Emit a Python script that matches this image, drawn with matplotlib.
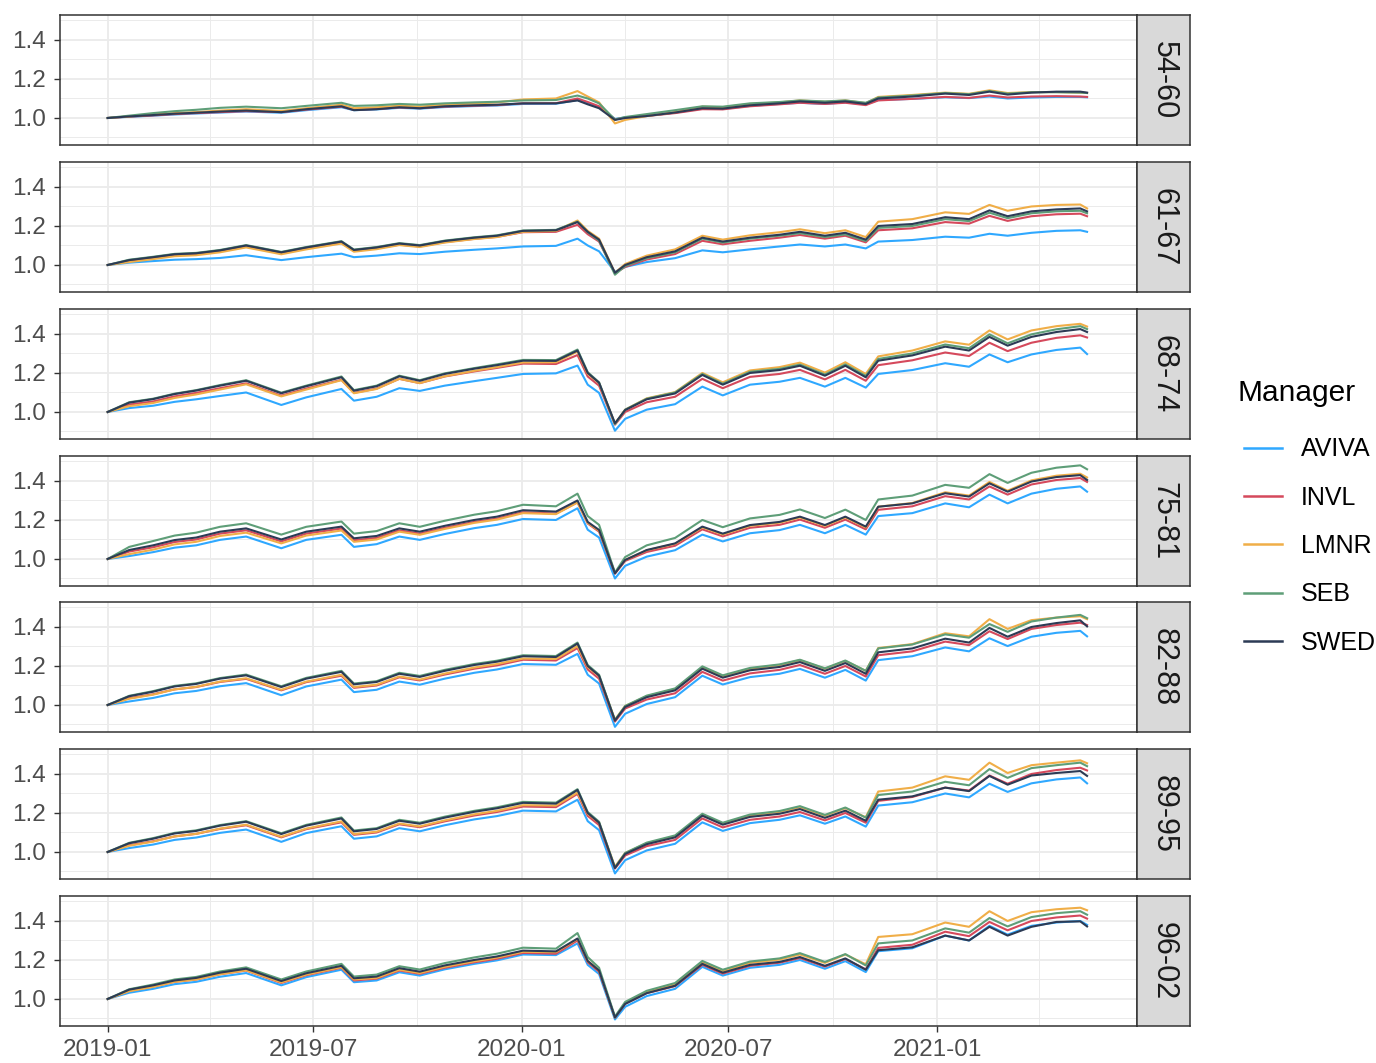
import pandas as pd
import matplotlib.pyplot as plt
import matplotlib.dates as mdates
from matplotlib.lines import Line2D
from matplotlib.ticker import MultipleLocator, FormatStrFormatter

plt.rcParams['font.family'] = ['Liberation Sans', 'DejaVu Sans']

# sample dates
dates = ['2019-01-01', '2019-01-20', '2019-02-10', '2019-03-01', '2019-03-20', '2019-04-10',
         '2019-05-03', '2019-06-03', '2019-06-25', '2019-07-26', '2019-08-06', '2019-08-26',
         '2019-09-15', '2019-10-03', '2019-10-25', '2019-11-20', '2019-12-10', '2020-01-02',
         '2020-01-31', '2020-02-19', '2020-02-28', '2020-03-09', '2020-03-23', '2020-04-01',
         '2020-04-20', '2020-05-15', '2020-06-08', '2020-06-26', '2020-07-20', '2020-08-15',
         '2020-09-02', '2020-09-24', '2020-10-12', '2020-10-30', '2020-11-10', '2020-12-10',
         '2021-01-08', '2021-01-29', '2021-02-16', '2021-03-04', '2021-03-25', '2021-04-16',
         '2021-05-07', '2021-05-13']

managers = ['AVIVA', 'INVL', 'LMNR', 'SEB', 'SWED']
colours = ['#2FA8FF', '#D5495C', '#F0AE48', '#5E9E78', '#2C3B55']
groups = ['54-60', '61-67', '68-74', '75-81', '82-88', '89-95', '96-02']

g54_60 = {
    'AVIVA': [1.000, 1.006, 1.012, 1.018, 1.023, 1.028, 1.033, 1.027, 1.040, 1.055, 1.040, 1.044,
              1.052, 1.048, 1.056, 1.061, 1.064, 1.072, 1.073, 1.092, 1.075, 1.055, 0.995, 1.003,
              1.012, 1.027, 1.048, 1.046, 1.062, 1.072, 1.078, 1.072, 1.080, 1.070, 1.092, 1.098,
              1.106, 1.102, 1.110, 1.100, 1.105, 1.108, 1.108, 1.106],
    'INVL': [1.000, 1.007, 1.013, 1.020, 1.025, 1.030, 1.035, 1.030, 1.043, 1.058, 1.042, 1.046,
             1.054, 1.050, 1.058, 1.063, 1.066, 1.075, 1.076, 1.100, 1.082, 1.060, 0.993, 1.002,
             1.010, 1.025, 1.045, 1.044, 1.060, 1.070, 1.078, 1.072, 1.078, 1.066, 1.090, 1.098,
             1.108, 1.103, 1.115, 1.105, 1.110, 1.112, 1.110, 1.108],
    'LMNR': [1.000, 1.008, 1.018, 1.025, 1.030, 1.038, 1.045, 1.036, 1.050, 1.068, 1.050, 1.055,
             1.063, 1.058, 1.068, 1.074, 1.080, 1.095, 1.100, 1.138, 1.110, 1.080, 0.972, 0.990,
             1.010, 1.030, 1.058, 1.055, 1.072, 1.080, 1.090, 1.083, 1.090, 1.076, 1.108, 1.118,
             1.130, 1.124, 1.142, 1.128, 1.133, 1.133, 1.130, 1.128],
    'SEB': [1.000, 1.012, 1.025, 1.035, 1.042, 1.052, 1.058, 1.050, 1.062, 1.078, 1.062, 1.065,
            1.072, 1.068, 1.075, 1.080, 1.083, 1.090, 1.092, 1.115, 1.100, 1.075, 0.992, 1.005,
            1.020, 1.040, 1.060, 1.058, 1.075, 1.082, 1.090, 1.085, 1.090, 1.078, 1.105, 1.115,
            1.128, 1.122, 1.138, 1.125, 1.132, 1.132, 1.130, 1.128],
    'SWED': [1.000, 1.008, 1.015, 1.022, 1.027, 1.033, 1.038, 1.030, 1.045, 1.060, 1.040, 1.045,
             1.055, 1.050, 1.060, 1.065, 1.068, 1.075, 1.075, 1.090, 1.070, 1.050, 0.990, 1.000,
             1.010, 1.028, 1.050, 1.048, 1.065, 1.075, 1.085, 1.078, 1.085, 1.072, 1.100, 1.110,
             1.125, 1.118, 1.135, 1.120, 1.130, 1.135, 1.135, 1.130],
}

g61_67 = {
    'AVIVA': [1.000, 1.012, 1.020, 1.027, 1.030, 1.036, 1.050, 1.025, 1.040, 1.058, 1.040, 1.048,
              1.060, 1.056, 1.068, 1.078, 1.085, 1.095, 1.098, 1.135, 1.100, 1.070, 0.965, 0.990,
              1.015, 1.035, 1.075, 1.065, 1.080, 1.095, 1.105, 1.095, 1.105, 1.085, 1.120, 1.128,
              1.145, 1.140, 1.160, 1.150, 1.165, 1.175, 1.178, 1.170],
    'INVL': [1.000, 1.020, 1.035, 1.050, 1.055, 1.070, 1.094, 1.060, 1.085, 1.114, 1.072, 1.085,
             1.104, 1.095, 1.117, 1.134, 1.144, 1.168, 1.170, 1.206, 1.158, 1.120, 0.958, 0.990,
             1.028, 1.056, 1.124, 1.106, 1.124, 1.140, 1.154, 1.135, 1.150, 1.116, 1.178, 1.188,
             1.220, 1.212, 1.252, 1.226, 1.250, 1.260, 1.263, 1.250],
    'LMNR': [1.000, 1.015, 1.030, 1.045, 1.050, 1.065, 1.090, 1.055, 1.080, 1.110, 1.068, 1.081,
             1.102, 1.092, 1.115, 1.133, 1.143, 1.170, 1.175, 1.228, 1.175, 1.135, 0.960, 1.005,
             1.048, 1.080, 1.150, 1.130, 1.152, 1.168, 1.183, 1.163, 1.178, 1.143, 1.222, 1.235,
             1.270, 1.262, 1.308, 1.278, 1.300, 1.308, 1.310, 1.290],
    'SEB': [1.000, 1.027, 1.042, 1.057, 1.062, 1.077, 1.102, 1.067, 1.092, 1.122, 1.079, 1.092,
            1.112, 1.102, 1.125, 1.142, 1.152, 1.177, 1.180, 1.222, 1.168, 1.125, 0.950, 0.995,
            1.035, 1.065, 1.135, 1.115, 1.135, 1.150, 1.163, 1.143, 1.157, 1.123, 1.190, 1.200,
            1.235, 1.225, 1.268, 1.240, 1.265, 1.275, 1.278, 1.265],
    'SWED': [1.000, 1.025, 1.040, 1.055, 1.060, 1.075, 1.100, 1.065, 1.090, 1.120, 1.077, 1.090,
             1.110, 1.100, 1.123, 1.140, 1.150, 1.175, 1.178, 1.220, 1.170, 1.130, 0.960, 1.000,
             1.040, 1.070, 1.140, 1.120, 1.140, 1.155, 1.170, 1.150, 1.165, 1.130, 1.200, 1.210,
             1.245, 1.235, 1.280, 1.250, 1.275, 1.285, 1.290, 1.275],
}

g68_74 = {
    'AVIVA': [1.000, 1.020, 1.032, 1.052, 1.065, 1.082, 1.100, 1.036, 1.075, 1.118, 1.058, 1.078,
              1.122, 1.108, 1.135, 1.158, 1.175, 1.195, 1.198, 1.238, 1.140, 1.098, 0.904, 0.965,
              1.012, 1.040, 1.130, 1.085, 1.140, 1.155, 1.175, 1.130, 1.175, 1.125, 1.195, 1.215,
              1.250, 1.232, 1.295, 1.255, 1.295, 1.318, 1.330, 1.297],
    'INVL': [1.000, 1.038, 1.054, 1.080, 1.098, 1.122, 1.147, 1.084, 1.120, 1.165, 1.098, 1.120,
             1.170, 1.148, 1.182, 1.208, 1.226, 1.248, 1.246, 1.292, 1.182, 1.135, 0.935, 1.000,
             1.050, 1.078, 1.170, 1.122, 1.180, 1.195, 1.216, 1.167, 1.216, 1.160, 1.240, 1.265,
             1.305, 1.287, 1.355, 1.312, 1.355, 1.380, 1.393, 1.382],
    'LMNR': [1.000, 1.030, 1.046, 1.072, 1.090, 1.115, 1.142, 1.080, 1.115, 1.163, 1.096, 1.118,
             1.170, 1.148, 1.183, 1.211, 1.230, 1.254, 1.255, 1.310, 1.196, 1.148, 0.940, 1.012,
             1.070, 1.102, 1.200, 1.152, 1.213, 1.230, 1.253, 1.202, 1.255, 1.195, 1.285, 1.315,
             1.362, 1.345, 1.418, 1.372, 1.418, 1.440, 1.452, 1.438],
    'SEB': [1.000, 1.050, 1.068, 1.094, 1.112, 1.138, 1.163, 1.099, 1.135, 1.182, 1.112, 1.135,
            1.186, 1.163, 1.198, 1.225, 1.244, 1.267, 1.266, 1.320, 1.204, 1.152, 0.938, 1.012,
            1.068, 1.100, 1.195, 1.145, 1.206, 1.221, 1.243, 1.192, 1.244, 1.185, 1.272, 1.300,
            1.346, 1.327, 1.398, 1.352, 1.398, 1.424, 1.440, 1.425],
    'SWED': [1.000, 1.048, 1.066, 1.092, 1.110, 1.135, 1.160, 1.096, 1.132, 1.178, 1.109, 1.132,
             1.183, 1.160, 1.195, 1.222, 1.240, 1.263, 1.262, 1.315, 1.200, 1.150, 0.942, 1.010,
             1.065, 1.095, 1.190, 1.140, 1.200, 1.215, 1.237, 1.186, 1.237, 1.178, 1.263, 1.290,
             1.335, 1.315, 1.385, 1.340, 1.385, 1.410, 1.425, 1.410],
}

g75_81 = {
    'AVIVA': [1.000, 1.015, 1.035, 1.058, 1.070, 1.098, 1.115, 1.055, 1.098, 1.124, 1.062, 1.076,
              1.115, 1.098, 1.128, 1.158, 1.175, 1.205, 1.200, 1.260, 1.150, 1.110, 0.900, 0.965,
              1.012, 1.045, 1.125, 1.090, 1.132, 1.148, 1.175, 1.132, 1.175, 1.125, 1.220, 1.235,
              1.285, 1.265, 1.330, 1.285, 1.335, 1.360, 1.372, 1.345],
    'INVL': [1.000, 1.038, 1.060, 1.087, 1.100, 1.130, 1.147, 1.090, 1.130, 1.156, 1.096, 1.108,
             1.147, 1.130, 1.160, 1.190, 1.207, 1.240, 1.233, 1.290, 1.182, 1.140, 0.925, 0.990,
             1.036, 1.068, 1.152, 1.116, 1.160, 1.175, 1.202, 1.160, 1.202, 1.152, 1.252, 1.270,
             1.322, 1.305, 1.372, 1.330, 1.382, 1.405, 1.415, 1.395],
    'LMNR': [1.000, 1.025, 1.048, 1.075, 1.088, 1.118, 1.135, 1.080, 1.120, 1.146, 1.088, 1.100,
             1.140, 1.124, 1.154, 1.185, 1.202, 1.235, 1.230, 1.290, 1.185, 1.145, 0.930, 0.995,
             1.045, 1.078, 1.162, 1.126, 1.170, 1.186, 1.213, 1.170, 1.213, 1.162, 1.268, 1.287,
             1.342, 1.325, 1.395, 1.350, 1.403, 1.427, 1.437, 1.418],
    'SEB': [1.000, 1.062, 1.092, 1.120, 1.135, 1.165, 1.183, 1.125, 1.165, 1.192, 1.130, 1.143,
            1.183, 1.165, 1.196, 1.227, 1.245, 1.278, 1.270, 1.335, 1.220, 1.175, 0.930, 1.010,
            1.070, 1.108, 1.200, 1.163, 1.208, 1.226, 1.254, 1.210, 1.253, 1.200, 1.305, 1.325,
            1.380, 1.365, 1.435, 1.390, 1.442, 1.468, 1.480, 1.460],
    'SWED': [1.000, 1.046, 1.070, 1.097, 1.110, 1.140, 1.157, 1.100, 1.140, 1.166, 1.106, 1.118,
             1.157, 1.140, 1.170, 1.200, 1.217, 1.250, 1.243, 1.300, 1.190, 1.149, 0.926, 0.995,
             1.046, 1.080, 1.166, 1.130, 1.174, 1.190, 1.217, 1.174, 1.217, 1.166, 1.268, 1.285,
             1.337, 1.320, 1.388, 1.345, 1.397, 1.420, 1.430, 1.405],
}

g82_88 = {
    'AVIVA': [1.000, 1.018, 1.036, 1.060, 1.072, 1.096, 1.112, 1.050, 1.095, 1.130, 1.066, 1.078,
              1.120, 1.104, 1.135, 1.165, 1.182, 1.210, 1.206, 1.262, 1.155, 1.110, 0.888, 0.955,
              1.005, 1.040, 1.150, 1.105, 1.143, 1.160, 1.185, 1.140, 1.180, 1.125, 1.230, 1.250,
              1.295, 1.275, 1.342, 1.302, 1.350, 1.370, 1.380, 1.352],
    'INVL': [1.000, 1.035, 1.055, 1.080, 1.092, 1.118, 1.134, 1.075, 1.117, 1.150, 1.088, 1.100,
             1.142, 1.126, 1.156, 1.186, 1.203, 1.232, 1.228, 1.292, 1.182, 1.135, 0.915, 0.982,
             1.028, 1.060, 1.170, 1.125, 1.162, 1.180, 1.205, 1.160, 1.200, 1.146, 1.255, 1.275,
             1.325, 1.307, 1.378, 1.338, 1.390, 1.410, 1.422, 1.410],
    'LMNR': [1.000, 1.032, 1.053, 1.080, 1.093, 1.120, 1.137, 1.078, 1.120, 1.155, 1.092, 1.104,
             1.146, 1.130, 1.161, 1.192, 1.210, 1.238, 1.236, 1.302, 1.195, 1.148, 0.925, 0.995,
             1.045, 1.082, 1.192, 1.148, 1.186, 1.205, 1.230, 1.186, 1.226, 1.175, 1.292, 1.312,
             1.368, 1.352, 1.440, 1.390, 1.435, 1.448, 1.455, 1.440],
    'SEB': [1.000, 1.047, 1.071, 1.098, 1.111, 1.138, 1.156, 1.096, 1.139, 1.175, 1.110, 1.122,
            1.165, 1.149, 1.180, 1.210, 1.227, 1.255, 1.251, 1.320, 1.205, 1.155, 0.922, 0.995,
            1.048, 1.085, 1.198, 1.152, 1.190, 1.208, 1.232, 1.188, 1.228, 1.175, 1.290, 1.310,
            1.362, 1.345, 1.415, 1.375, 1.428, 1.448, 1.462, 1.445],
    'SWED': [1.000, 1.045, 1.068, 1.095, 1.108, 1.135, 1.152, 1.092, 1.135, 1.170, 1.106, 1.118,
             1.160, 1.144, 1.175, 1.205, 1.222, 1.250, 1.246, 1.315, 1.200, 1.150, 0.920, 0.990,
             1.040, 1.075, 1.186, 1.140, 1.178, 1.195, 1.220, 1.175, 1.215, 1.160, 1.270, 1.290,
             1.340, 1.320, 1.395, 1.350, 1.400, 1.420, 1.434, 1.403],
}

g89_95 = {
    'AVIVA': [1.000, 1.020, 1.038, 1.062, 1.074, 1.098, 1.115, 1.052, 1.097, 1.132, 1.068, 1.080,
              1.122, 1.106, 1.137, 1.167, 1.184, 1.212, 1.208, 1.268, 1.158, 1.112, 0.890, 0.958,
              1.008, 1.042, 1.152, 1.108, 1.148, 1.165, 1.188, 1.145, 1.182, 1.130, 1.238, 1.255,
              1.300, 1.280, 1.350, 1.308, 1.352, 1.372, 1.382, 1.352],
    'INVL': [1.000, 1.035, 1.055, 1.080, 1.093, 1.118, 1.137, 1.075, 1.117, 1.152, 1.088, 1.100,
             1.142, 1.127, 1.157, 1.187, 1.205, 1.233, 1.230, 1.298, 1.185, 1.138, 0.915, 0.982,
             1.030, 1.062, 1.172, 1.126, 1.165, 1.182, 1.205, 1.162, 1.200, 1.150, 1.262, 1.282,
             1.330, 1.315, 1.392, 1.350, 1.400, 1.420, 1.432, 1.418],
    'LMNR': [1.000, 1.032, 1.053, 1.080, 1.093, 1.120, 1.140, 1.078, 1.120, 1.157, 1.092, 1.104,
             1.146, 1.131, 1.162, 1.193, 1.211, 1.240, 1.238, 1.305, 1.196, 1.150, 0.925, 0.995,
             1.045, 1.080, 1.190, 1.146, 1.188, 1.206, 1.230, 1.186, 1.225, 1.178, 1.310, 1.330,
             1.388, 1.370, 1.458, 1.405, 1.445, 1.458, 1.470, 1.455],
    'SEB': [1.000, 1.047, 1.071, 1.098, 1.111, 1.138, 1.158, 1.096, 1.139, 1.177, 1.110, 1.122,
            1.165, 1.150, 1.181, 1.211, 1.229, 1.257, 1.253, 1.322, 1.205, 1.155, 0.920, 0.995,
            1.048, 1.085, 1.196, 1.150, 1.192, 1.210, 1.235, 1.190, 1.228, 1.176, 1.292, 1.310,
            1.360, 1.342, 1.425, 1.380, 1.430, 1.445, 1.458, 1.440],
    'SWED': [1.000, 1.045, 1.068, 1.095, 1.108, 1.135, 1.155, 1.092, 1.135, 1.172, 1.106, 1.118,
             1.160, 1.145, 1.176, 1.206, 1.224, 1.252, 1.248, 1.318, 1.200, 1.150, 0.918, 0.990,
             1.040, 1.075, 1.186, 1.140, 1.180, 1.196, 1.220, 1.175, 1.212, 1.160, 1.268, 1.285,
             1.330, 1.312, 1.390, 1.345, 1.392, 1.405, 1.415, 1.390],
}

g96_02 = {
    'AVIVA': [1.000, 1.032, 1.052, 1.076, 1.088, 1.114, 1.133, 1.070, 1.112, 1.150, 1.086, 1.095,
              1.137, 1.120, 1.152, 1.180, 1.198, 1.228, 1.225, 1.285, 1.175, 1.128, 0.895, 0.960,
              1.015, 1.052, 1.165, 1.120, 1.160, 1.175, 1.200, 1.155, 1.194, 1.138, 1.245, 1.260,
              1.325, 1.300, 1.375, 1.330, 1.375, 1.392, 1.400, 1.380],
    'INVL': [1.000, 1.042, 1.063, 1.088, 1.100, 1.127, 1.146, 1.082, 1.122, 1.160, 1.095, 1.104,
             1.146, 1.129, 1.160, 1.188, 1.206, 1.236, 1.232, 1.300, 1.188, 1.140, 0.905, 0.975,
             1.030, 1.066, 1.175, 1.130, 1.170, 1.186, 1.210, 1.166, 1.205, 1.152, 1.262, 1.278,
             1.345, 1.322, 1.395, 1.352, 1.400, 1.418, 1.428, 1.412],
    'LMNR': [1.000, 1.040, 1.062, 1.088, 1.100, 1.127, 1.147, 1.085, 1.125, 1.163, 1.100, 1.108,
             1.150, 1.133, 1.165, 1.193, 1.212, 1.242, 1.240, 1.308, 1.195, 1.148, 0.905, 0.980,
             1.038, 1.075, 1.188, 1.143, 1.185, 1.202, 1.228, 1.185, 1.228, 1.178, 1.318, 1.332,
             1.392, 1.370, 1.450, 1.400, 1.445, 1.460, 1.468, 1.455],
    'SEB': [1.000, 1.050, 1.074, 1.100, 1.113, 1.141, 1.162, 1.100, 1.141, 1.180, 1.115, 1.125,
            1.168, 1.151, 1.184, 1.213, 1.232, 1.263, 1.258, 1.338, 1.215, 1.160, 0.910, 0.985,
            1.042, 1.082, 1.195, 1.150, 1.192, 1.208, 1.235, 1.190, 1.230, 1.172, 1.285, 1.300,
            1.362, 1.340, 1.415, 1.372, 1.420, 1.440, 1.450, 1.432],
    'SWED': [1.000, 1.048, 1.070, 1.095, 1.108, 1.135, 1.155, 1.092, 1.132, 1.170, 1.106, 1.115,
             1.158, 1.140, 1.172, 1.200, 1.218, 1.248, 1.244, 1.310, 1.195, 1.146, 0.905, 0.975,
             1.030, 1.068, 1.180, 1.135, 1.175, 1.190, 1.215, 1.170, 1.208, 1.150, 1.250, 1.265,
             1.325, 1.300, 1.370, 1.325, 1.370, 1.395, 1.398, 1.372],
}

panels = [g54_60, g61_67, g68_74, g75_81, g82_88, g89_95, g96_02]

x = pd.to_datetime(dates)

W, H = 1376, 1063
fig = plt.figure(figsize=(W / 100, H / 100), dpi=100)

tops = [15, 162, 309, 456, 602, 749, 896]
ph = 130
left, right, strip_r = 60, 1137, 1190

for i, (grp, data) in enumerate(zip(groups, panels)):
    top = tops[i]
    ax = fig.add_axes([left / W, 1 - (top + ph) / H, (right - left) / W, ph / H])
    for m, c in zip(managers, colours):
        ax.plot(x, data[m], color=c, lw=1.5, zorder=3)

    ax.set_xlim(pd.Timestamp('2018-11-20'), pd.Timestamp('2021-06-26'))
    ax.set_ylim(0.8615, 1.528)
    ax.xaxis.set_major_locator(mdates.MonthLocator(bymonth=[1, 7]))
    ax.xaxis.set_minor_locator(mdates.MonthLocator(bymonth=[4, 10]))
    ax.xaxis.set_major_formatter(mdates.DateFormatter('%Y-%m'))
    ax.yaxis.set_major_locator(MultipleLocator(0.2))
    ax.yaxis.set_minor_locator(MultipleLocator(0.1))
    ax.yaxis.set_major_formatter(FormatStrFormatter('%.1f'))

    ax.grid(which='major', color='#EBEBEB', lw=1.3, zorder=0)
    ax.grid(which='minor', color='#EBEBEB', lw=0.7, zorder=0)
    ax.set_axisbelow(True)
    ax.tick_params(which='major', direction='out', length=4, width=1, color='#333333',
                   labelcolor='#4D4D4D', labelsize=17.5, pad=6)
    ax.tick_params(which='minor', length=0)
    for s in ax.spines.values():
        s.set_color('#333333')
        s.set_linewidth(1.1)
    if i < len(groups) - 1:
        ax.tick_params(axis='x', which='major', length=0, labelbottom=False)
    else:
        ax.tick_params(axis='x', pad=5)

    # facet strip
    st = fig.add_axes([right / W, 1 - (top + ph) / H, (strip_r - right) / W, ph / H])
    st.set_facecolor('#D9D9D9')
    st.set_xticks([])
    st.set_yticks([])
    for s in st.spines.values():
        s.set_color('#333333')
        s.set_linewidth(1.1)
    st.text(0.5, 0.5, grp, rotation=-90, ha='center', va='center', fontsize=22,
            color='#1A1A1A', transform=st.transAxes)

# legend: title as its own text, keys below
fig.text(1237 / W, 1 - 393 / H, 'Manager', fontsize=21.5, color='black',
         ha='left', va='center')
handles = [Line2D([0], [0], color=c, lw=1.8) for c in colours]
fig.legend(handles, managers, loc='upper left',
           bbox_to_anchor=(1221 / W, 1 - 415 / H), frameon=False, fontsize=18,
           handlelength=1.55, handletextpad=0.75, labelspacing=0.97)

plt.savefig('out.png', dpi=100)
